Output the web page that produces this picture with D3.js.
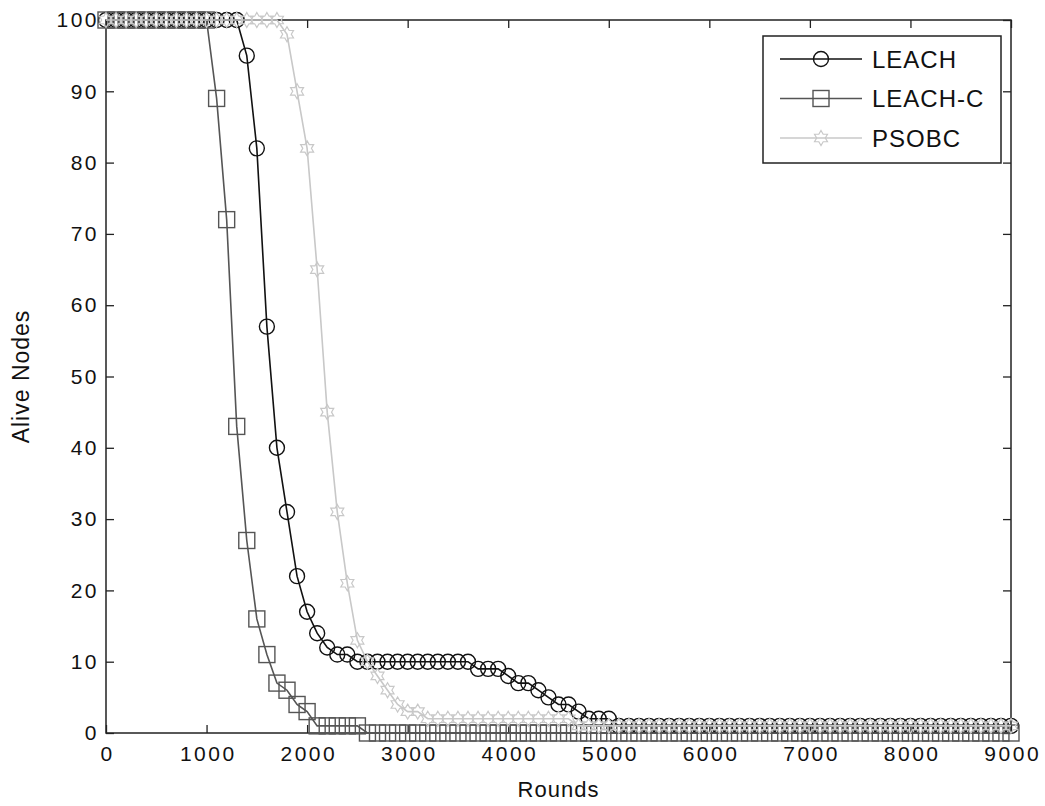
<!DOCTYPE html>
<html>
<head>
<meta charset="utf-8">
<script src="https://cdn.jsdelivr.net/npm/d3@7"></script>
<style>
  body { margin: 0; background: #fff; }
  svg { display: block; font-family: "Liberation Sans", Arial, sans-serif; }
</style>
</head>
<body>
<svg id="chart" width="1045" height="806"></svg>
<script>
// sampled every 100 rounds, 0 .. 9000
let rounds = d3.range(0, 9001, 100);

let leach = [
  100, 100, 100, 100, 100, 100, 100, 100, 100, 100, 100, 100, 100, 100,
  95, 82, 57, 40, 31, 22, 17, 14, 12, 11, 11,
  10, 10, 10, 10, 10, 10, 10, 10, 10, 10, 10, 10,
  9, 9, 9, 8, 7, 7, 6, 5, 4, 4, 3, 2, 2, 2,
  1, 1, 1, 1, 1, 1, 1, 1, 1, 1, 1, 1, 1, 1, 1, 1, 1, 1, 1, 1,
  1, 1, 1, 1, 1, 1, 1, 1, 1, 1, 1, 1, 1, 1, 1, 1, 1, 1, 1, 1
];

let leachC = [
  100, 100, 100, 100, 100, 100, 100, 100, 100, 100, 100,
  89, 72, 43, 27, 16, 11, 7, 6, 4, 3,
  1, 1, 1, 1, 1,
  0, 0, 0, 0, 0, 0, 0, 0, 0, 0, 0, 0, 0, 0, 0, 0, 0, 0, 0, 0,
  0, 0, 0, 0, 0, 0, 0, 0, 0, 0, 0, 0, 0, 0, 0, 0, 0, 0, 0, 0,
  0, 0, 0, 0, 0, 0, 0, 0, 0, 0, 0, 0, 0, 0, 0, 0, 0, 0, 0, 0,
  0, 0, 0, 0, 0
];

let psobc = [
  100, 100, 100, 100, 100, 100, 100, 100, 100, 100, 100, 100, 100, 100, 100, 100, 100, 100,
  98, 90, 82, 65, 45, 31, 21, 13,
  10, 8, 6, 4, 3, 3,
  2, 2, 2, 2, 2, 2, 2, 2, 2, 2, 2, 2, 2, 2, 2,
  1, 1, 1, 1, 1, 1, 1, 1, 1, 1, 1, 1, 1, 1, 1, 1, 1, 1, 1, 1, 1, 1,
  1, 1, 1, 1, 1, 1, 1, 1, 1, 1, 1, 1, 1, 1, 1, 1, 1, 1, 1, 1, 1, 1
];

let seriesNames = ["LEACH", "LEACH-C", "PSOBC"];
let xTicks = [0, 1000, 2000, 3000, 4000, 5000, 6000, 7000, 8000, 9000];
let yTicks = [0, 10, 20, 30, 40, 50, 60, 70, 80, 90, 100];

let series = [
  { name: seriesNames[0], values: leach, color: "#111", marker: "circle" },
  { name: seriesNames[1], values: leachC, color: "#555", marker: "square" },
  { name: seriesNames[2], values: psobc, color: "#c8c8c8", marker: "hexagram" }
];

let plotLeft = 106, plotRight = 1011, plotTop = 20, plotBottom = 733;

let x = d3.scaleLinear().domain([0, 9000]).range([plotLeft, plotRight]);
let y = d3.scaleLinear().domain([0, 100]).range([plotBottom, plotTop]);

let svg = d3.select("#chart");
svg.append("rect").attr("width", 1045).attr("height", 806).attr("fill", "#fff");

// hexagram marker path (matlab style)
function hexagram(r) {
  let pts = [];
  for (let k = 0; k < 12; k++) {
    let a = (k * 30 - 90) * Math.PI / 180;
    let rr = k % 2 === 0 ? r : r / Math.sqrt(3);
    pts.push([rr * Math.cos(a), rr * Math.sin(a)]);
  }
  return "M" + pts.map(p => p[0].toFixed(2) + "," + p[1].toFixed(2)).join("L") + "Z";
}

function drawMarker(g, kind, color) {
  if (kind === "circle") {
    g.append("circle").attr("r", 7.5)
      .attr("fill", "none").attr("stroke", color).attr("stroke-width", 1.4);
  } else if (kind === "square") {
    g.append("rect").attr("x", -8).attr("y", -8).attr("width", 16).attr("height", 16)
      .attr("fill", "none").attr("stroke", color).attr("stroke-width", 1.4);
  } else {
    g.append("path").attr("d", hexagram(7.5))
      .attr("fill", "none").attr("stroke", color).attr("stroke-width", 1.2);
  }
}

// axes (matlab box with inward ticks)
let fmt = d3.format("d");

let gx = svg.append("g")
  .attr("transform", `translate(0, ${plotBottom})`)
  .call(d3.axisBottom(x).tickValues(xTicks).tickSize(-8).tickPadding(13).tickFormat(fmt));
gx.select(".domain").remove();

svg.append("g")
  .attr("transform", `translate(0, ${plotTop})`)
  .call(d3.axisTop(x).tickValues(xTicks).tickSize(-8).tickFormat(""))
  .select(".domain").remove();

let gy = svg.append("g")
  .attr("transform", `translate(${plotLeft}, 0)`)
  .call(d3.axisLeft(y).tickValues(yTicks).tickSize(-8).tickPadding(7).tickFormat(fmt));
gy.select(".domain").remove();

svg.append("g")
  .attr("transform", `translate(${plotRight}, 0)`)
  .call(d3.axisRight(y).tickValues(yTicks).tickSize(-8).tickFormat(""))
  .select(".domain").remove();

svg.selectAll(".tick line").attr("stroke", "#222").attr("stroke-width", 1.3);
svg.selectAll(".tick text")
  .attr("font-size", 21)
  .attr("letter-spacing", 2.5)
  .attr("font-family", "Liberation Sans, Arial, sans-serif")
  .attr("fill", "#111");
gx.selectAll(".tick text").attr("dx", 1.2);

svg.append("rect")
  .attr("x", plotLeft).attr("y", plotTop)
  .attr("width", plotRight - plotLeft).attr("height", plotBottom - plotTop)
  .attr("fill", "none").attr("stroke", "#222").attr("stroke-width", 1.5);

// series
let line = d3.line()
  .x(function (d) { return x(d.r) })
  .y(function (d) { return y(d.v) });

series.forEach(function (s) {
  let pts = rounds.map(function (r, i) { return { r: r, v: s.values[i] } });
  let g = svg.append("g");
  g.append("path")
    .datum(pts)
    .attr("d", line)
    .attr("fill", "none")
    .attr("stroke", s.color)
    .attr("stroke-width", 1.6);
  g.selectAll(".m")
    .data(pts)
    .join("g")
    .attr("class", "m")
    .attr("transform", function (d) { return `translate(${x(d.r)}, ${y(d.v)})` })
    .each(function () { drawMarker(d3.select(this), s.marker, s.color) });
});

// axis titles
svg.append("text")
  .attr("x", (plotLeft + plotRight) / 2).attr("y", 797)
  .attr("text-anchor", "middle")
  .attr("font-size", 22).attr("letter-spacing", 1).attr("fill", "#111")
  .text("Rounds");

svg.append("text")
  .attr("transform", `translate(29, ${(plotTop + plotBottom) / 2}) rotate(-90)`)
  .attr("text-anchor", "middle")
  .attr("font-size", 23).attr("letter-spacing", 1).attr("fill", "#111")
  .text("Alive Nodes");

// legend
let legend = svg.append("g");
legend.append("rect")
  .attr("x", 763).attr("y", 36).attr("width", 238).attr("height", 127)
  .attr("fill", "#fff").attr("stroke", "#222").attr("stroke-width", 1.5);

let legendY = d3.scalePoint().domain(seriesNames).range([59, 138]);

series.forEach(function (s) {
  let yy = legendY(s.name);
  legend.append("line")
    .attr("x1", 780).attr("x2", 862).attr("y1", yy).attr("y2", yy)
    .attr("stroke", s.color).attr("stroke-width", 1.5);
  drawMarker(legend.append("g").attr("transform", `translate(821, ${yy})`), s.marker, s.color);
  legend.append("text")
    .attr("x", 872).attr("y", yy).attr("dy", "0.36em")
    .attr("font-size", 24).attr("letter-spacing", 1).attr("fill", "#111")
    .text(s.name);
});
</script>
</body>
</html>
